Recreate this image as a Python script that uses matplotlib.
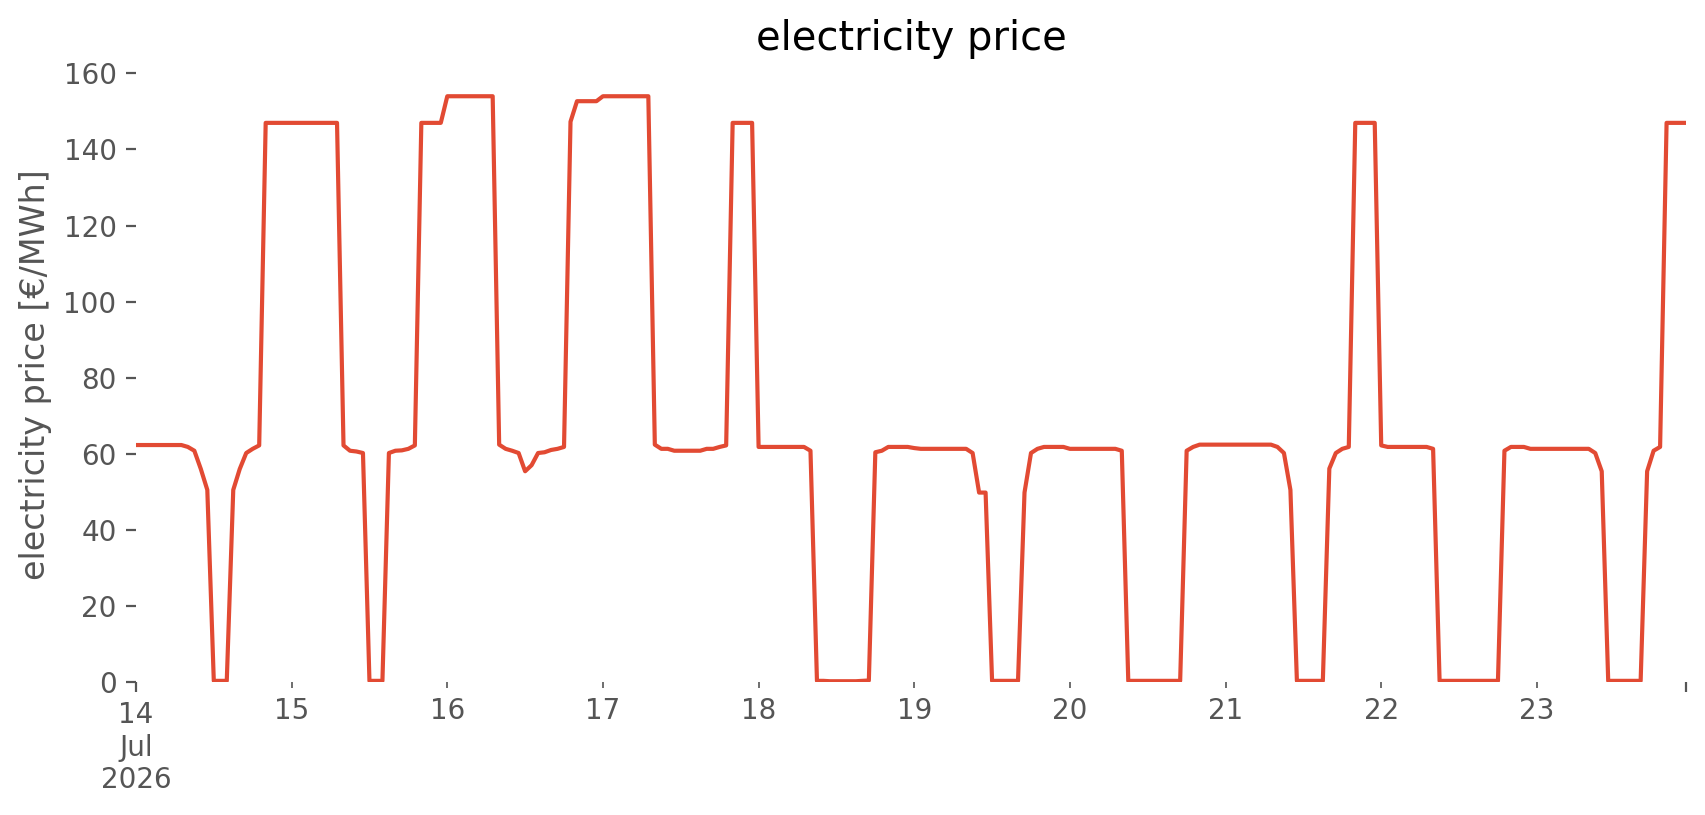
import matplotlib
matplotlib.use("Agg")
import matplotlib.pyplot as plt
import pandas as pd

plt.style.use("ggplot")

start = "2026-07-14 00:00"
day14 = [62.3]*8 + [61.8, 60.8, 56.0, 50.5, 0.3, 0.3, 0.3, 50.5, 56.0, 60.2, 61.3, 62.2] + [147.0]*4
day15 = [147.0]*8 + [62.2, 60.8, 60.6, 60.2, 0.3, 0.3, 0.3, 60.2, 60.8, 60.9, 61.3, 62.2] + [147.0]*4
day16 = [154.0]*8 + [62.4, 61.3, 60.8, 60.2, 55.4, 57.0, 60.2, 60.4, 61.0, 61.3, 61.8, 147.3] + [152.7]*4
day17 = [154.0]*8 + [62.4, 61.3, 61.3, 60.8, 60.8, 60.8, 60.8, 60.8, 61.3, 61.3, 61.8, 62.2] + [147.0]*4
day18 = [61.8]*8 + [60.8, 0.3, 0.3, 0.2, 0.2, 0.2, 0.2, 0.2, 0.3, 0.4, 60.4, 60.8] + [61.8]*4
day19 = [61.5] + [61.3]*8 + [60.2, 49.8, 49.8, 0.3, 0.3, 0.3, 0.3, 0.3, 49.8, 60.2, 61.3] + [61.8]*4
day20 = [61.3]*8 + [60.8] + [0.3]*9 + [60.8, 61.8] + [62.4]*4
day21 = [62.4]*8 + [61.8, 60.2, 50.5] + [0.3]*5 + [56.1, 60.2, 61.3, 61.8] + [147.0]*4
day22 = [62.2] + [61.8]*7 + [61.3] + [0.3]*10 + [60.8, 61.8, 61.8, 61.8, 61.3]
day23 = [61.3]*9 + [60.2, 55.4] + [0.3]*6 + [55.4, 60.8, 61.8] + [147.0]*4

prices = day14 + day15 + day16 + day17 + day18 + day19 + day20 + day21 + day22 + day23
index = pd.date_range(start, periods=len(prices), freq="h")
series = pd.Series(prices, index=index)

fig = plt.figure(figsize=(8.53, 4.075), dpi=200)
ax = fig.add_axes([0.0797, 0.1632, 0.9086, 0.7546])
ax.set_facecolor("white")
fig.patch.set_facecolor("white")
series.plot(ax=ax, color="#E24A33", linewidth=1.5)
ax.grid(False)
ax.set_ylim(bottom=0)
ax.set_title("electricity price", fontsize=14.4)
ax.set_ylabel("electricity price [€/MWh]")
ax.set_xlabel("")
for s in ax.spines.values():
    s.set_visible(False)

fig.savefig("out.png", dpi=200, facecolor="white")
